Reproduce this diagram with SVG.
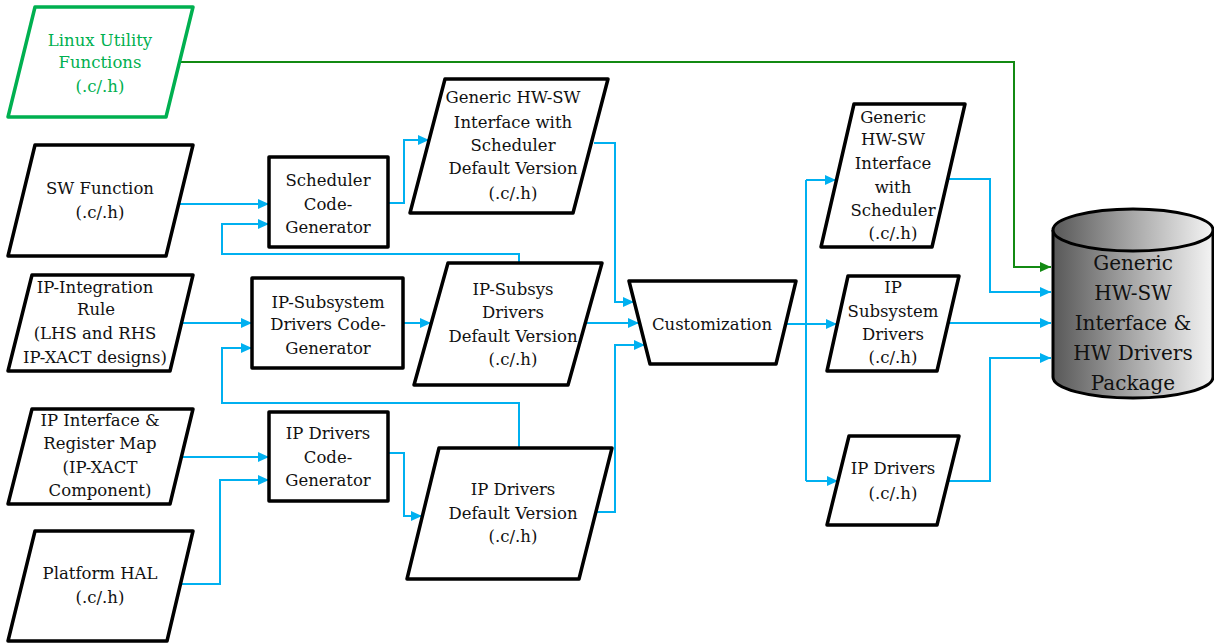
<svg xmlns="http://www.w3.org/2000/svg" width="1214" height="644" viewBox="0 0 1214 644">
  <style>
    .box { fill: #ffffff; stroke: #000000; stroke-width: 3.5; stroke-linejoin: round; }
    .green-box { fill: #ffffff; stroke: #00b050; stroke-width: 3.5; stroke-linejoin: round; }
    .lbl { font-family: "DejaVu Serif", "Liberation Serif", serif; font-size: 16.5px; fill: #111111; text-anchor: middle; }
    .green-lbl { fill: #00b050; }
    .big { font-size: 20px; }
    .wire { fill: none; stroke: #00b0f0; stroke-width: 2; }
    .wire-green { fill: none; stroke: #138a13; stroke-width: 2; }
  </style>
  <defs>
    <marker id="arrow" markerUnits="userSpaceOnUse" markerWidth="11" markerHeight="10" refX="11" refY="5" orient="auto">
      <path d="M0,0 L11,5 L0,10 z" fill="#00b0f0"/>
    </marker>
    <marker id="arrowGreen" markerUnits="userSpaceOnUse" markerWidth="11" markerHeight="10" refX="11" refY="5" orient="auto">
      <path d="M0,0 L11,5 L0,10 z" fill="#138a13"/>
    </marker>
    <linearGradient id="drum" x1="0" y1="0" x2="1" y2="0">
      <stop offset="0" stop-color="#585858"/>
      <stop offset="0.5" stop-color="#a8a8a8"/>
      <stop offset="1" stop-color="#f4f4f4"/>
    </linearGradient>
  </defs>

  <rect width="1214" height="644" fill="#ffffff"/>

  <!-- connectors -->
  <g id="connectors">
    <path class="wire-green" d="M180,62 H1014 V267 H1051" marker-end="url(#arrowGreen)"/>
    <path class="wire" d="M178,204 H269" marker-end="url(#arrow)"/>
    <path class="wire" d="M519,263 V254 H222 V224 H269" marker-end="url(#arrow)"/>
    <path class="wire" d="M388,203 H404 V140 H429" marker-end="url(#arrow)"/>
    <path class="wire" d="M594,143 H615 V302 H634" marker-end="url(#arrow)"/>
    <path class="wire" d="M183,323 H252" marker-end="url(#arrow)"/>
    <path class="wire" d="M519,448 V403 H222 V348 H252" marker-end="url(#arrow)"/>
    <path class="wire" d="M403,323 H431" marker-end="url(#arrow)"/>
    <path class="wire" d="M585,323 H639" marker-end="url(#arrow)"/>
    <path class="wire" d="M181,457 H269" marker-end="url(#arrow)"/>
    <path class="wire" d="M180,584 H220 V480 H269" marker-end="url(#arrow)"/>
    <path class="wire" d="M388,453 H404 V516 H422" marker-end="url(#arrow)"/>
    <path class="wire" d="M596,512 H615 V345 H645" marker-end="url(#arrow)"/>
    <path class="wire" d="M786,324 H837" marker-end="url(#arrow)"/>
    <path class="wire" d="M806,180 V481"/>
    <path class="wire" d="M806,180 H836" marker-end="url(#arrow)"/>
    <path class="wire" d="M806,481 H838" marker-end="url(#arrow)"/>
    <path class="wire" d="M948,179 H990 V292 H1051" marker-end="url(#arrow)"/>
    <path class="wire" d="M948,323 H1051" marker-end="url(#arrow)"/>
    <path class="wire" d="M948,481 H990 V358 H1051" marker-end="url(#arrow)"/>
  </g>

  <!-- inputs -->
  <g id="linux-utility">
    <polygon class="green-box" points="35,7 193,7 166,117 8,117"/>
    <text class="lbl green-lbl"><tspan x="100" y="46">Linux Utility</tspan><tspan x="100" y="68">Functions</tspan><tspan x="100" y="92">(.c/.h)</tspan></text>
  </g>

  <g id="sw-function">
    <polygon class="box" points="35,145 193,145 166,256 8,256"/>
    <text class="lbl"><tspan x="100" y="194">SW Function</tspan><tspan x="100" y="218">(.c/.h)</tspan></text>
  </g>

  <g id="ip-integration-rule">
    <polygon class="box" points="32,275 193,275 170,371 8,371"/>
    <text class="lbl"><tspan x="95" y="293">IP-Integration</tspan><tspan x="96" y="315">Rule</tspan><tspan x="95" y="339">(LHS and RHS</tspan><tspan x="95" y="363">IP-XACT designs)</tspan></text>
  </g>

  <g id="ip-interface">
    <polygon class="box" points="32,409 193,409 170,504 8,504"/>
    <text class="lbl"><tspan x="100" y="426">IP Interface &amp;</tspan><tspan x="100" y="449">Register Map</tspan><tspan x="100" y="473">(IP-XACT</tspan><tspan x="100" y="496">Component)</tspan></text>
  </g>

  <g id="platform-hal">
    <polygon class="box" points="35,531 193,531 167,641 8,641"/>
    <text class="lbl"><tspan x="100" y="579">Platform HAL</tspan><tspan x="100" y="603">(.c/.h)</tspan></text>
  </g>

  <!-- code generators -->
  <g id="scheduler-codegen">
    <rect class="box" x="269" y="157" width="119" height="90"/>
    <text class="lbl"><tspan x="328" y="186">Scheduler</tspan><tspan x="328" y="210">Code-</tspan><tspan x="328" y="233">Generator</tspan></text>
  </g>

  <g id="ip-subsystem-codegen">
    <rect class="box" x="252" y="278" width="151" height="90"/>
    <text class="lbl"><tspan x="328" y="308">IP-Subsystem</tspan><tspan x="328" y="330">Drivers Code-</tspan><tspan x="328" y="354">Generator</tspan></text>
  </g>

  <g id="ip-drivers-codegen">
    <rect class="box" x="269" y="412" width="119" height="89"/>
    <text class="lbl"><tspan x="328" y="439">IP Drivers</tspan><tspan x="328" y="463">Code-</tspan><tspan x="328" y="486">Generator</tspan></text>
  </g>

  <!-- default versions -->
  <g id="hwsw-default">
    <polygon class="box" points="445,79 608,79 573,213 410,213"/>
    <text class="lbl"><tspan x="513" y="103">Generic HW-SW</tspan><tspan x="513" y="128">Interface with</tspan><tspan x="513" y="151">Scheduler</tspan><tspan x="513" y="174">Default Version</tspan><tspan x="513" y="199">(.c/.h)</tspan></text>
  </g>

  <g id="ip-subsys-default">
    <polygon class="box" points="448,263 602,263 568,385 414,385"/>
    <text class="lbl"><tspan x="513" y="295">IP-Subsys</tspan><tspan x="513" y="318">Drivers</tspan><tspan x="513" y="342">Default Version</tspan><tspan x="513" y="365">(.c/.h)</tspan></text>
  </g>

  <g id="ip-drivers-default">
    <polygon class="box" points="439,448 612,448 579,579 407,579"/>
    <text class="lbl"><tspan x="513" y="495">IP Drivers</tspan><tspan x="513" y="519">Default Version</tspan><tspan x="513" y="542">(.c/.h)</tspan></text>
  </g>

  <!-- customization step -->
  <g id="customization">
    <polygon class="box" points="629,281 796,281 776,364 650,364"/>
    <text class="lbl"><tspan x="712" y="330">Customization</tspan></text>
  </g>

  <!-- customized outputs -->
  <g id="hwsw-custom">
    <polygon class="box" points="854,104 965,104 932,247 821,247"/>
    <text class="lbl"><tspan x="893" y="123">Generic</tspan><tspan x="893" y="145">HW-SW</tspan><tspan x="893" y="169">Interface</tspan><tspan x="893" y="193">with</tspan><tspan x="893" y="216">Scheduler</tspan><tspan x="893" y="239">(.c/.h)</tspan></text>
  </g>

  <g id="ip-subsystem-drivers">
    <polygon class="box" points="848,276 959,276 937,371 827,371"/>
    <text class="lbl"><tspan x="893" y="293">IP</tspan><tspan x="893" y="317">Subsystem</tspan><tspan x="893" y="340">Drivers</tspan><tspan x="893" y="363">(.c/.h)</tspan></text>
  </g>

  <g id="ip-drivers">
    <polygon class="box" points="849,436 959,436 937,525 827,525"/>
    <text class="lbl"><tspan x="893" y="474">IP Drivers</tspan><tspan x="893" y="499">(.c/.h)</tspan></text>
  </g>

  <!-- final package store -->
  <g id="package">
    <path d="M1053,230 V377 A80,21 0 0 0 1213,377 V230" fill="url(#drum)" stroke="#000000" stroke-width="3"/>
    <ellipse cx="1133" cy="230" rx="80" ry="21" fill="url(#drum)" stroke="#000000" stroke-width="3"/>
    <text class="lbl big"><tspan x="1133" y="270">Generic</tspan><tspan x="1133" y="300">HW-SW</tspan><tspan x="1133" y="330">Interface &amp;</tspan><tspan x="1133" y="360">HW Drivers</tspan><tspan x="1133" y="390">Package</tspan></text>
  </g>
</svg>
